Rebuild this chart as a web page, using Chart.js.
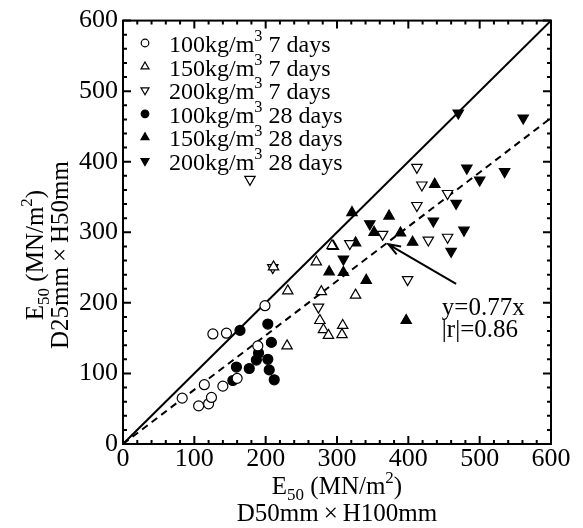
<!DOCTYPE html>
<html>
<head>
<title>E50 D25xH50 vs D50xH100</title>
<script src="https://cdn.jsdelivr.net/npm/chart.js"></script>
<style>
  body { margin: 0; background: #fff; }
  #wrap { width: 583px; height: 528px; }
</style>
</head>
<body>
<div id="wrap"><canvas id="e50Chart"></canvas></div>
<script>
const serif = "'Liberation Serif', 'Times New Roman', serif";

// [E50 D50xH100, E50 D25xH50] in MN/m2
const c100d7 = [[83,65],[106,54],[120,57],[124,66],[114,84],[140,82],[160,93],[126,156],[145,157],[189,139],[199,196]];
const c150d7 = [[211,251],[231,217],[271,258],[293,281],[278,216],[326,211],[276,175],[281,162],[288,154],[308,168],[307,155],[230,139]];
const c200d7 = [[178,375],[210,250],[318,284],[274,194],[412,392],[419,367],[455,355],[412,338],[364,297],[428,289],[455,293],[399,233]];
const c100d28 = [[164,161],[203,170],[208,144],[190,129],[187,119],[203,120],[205,105],[177,107],[159,109],[212,91],[154,90]];
const c150d28 = [[295,280],[326,285],[289,244],[309,243],[341,232],[321,328],[352,300],[373,323],[437,368],[389,299],[406,286],[397,175]];
const c200d28 = [[470,469],[561,462],[482,391],[535,386],[500,374],[467,341],[309,262],[346,312],[435,316],[478,303],[460,273]];

const oneToOne = [[0,0],[600,600]];
const fitLine = [[0,0],[600,462]];
const fitText = ["y=0.77x", "|r|=0.86"];
const arrowFrom = [467,227];
const arrowTo = [372,283];

const toXY = arr => arr.map(p => ({x: p[0], y: p[1]}));

function pts(unit, days, data, style, filled, rot) {
  return {
    label: unit + "|" + days,
    data: toXY(data),
    showLine: false,
    pointStyle: style,
    rotation: rot,
    pointRadius: style === "circle" ? 5 : 6,
    pointHoverRadius: style === "circle" ? 5 : 6,
    pointBackgroundColor: filled ? "#000" : "#fff",
    pointBorderColor: "#000",
    pointBorderWidth: 1.2,
    order: 1,
    legendRow: true
  };
}

function line(data, dash) {
  return {
    label: "",
    data: toXY(data),
    showLine: true,
    pointRadius: 0,
    borderColor: "#000",
    borderWidth: 2,
    borderDash: dash,
    order: 5
  };
}

function drawRich(ctx, parts, x, y, size, align) {
  let w = 0;
  parts.forEach(([t, k]) => {
    ctx.font = (k ? size * 0.68 : size) + "px " + serif;
    w += ctx.measureText(t).width;
  });
  let cx = align === "left" ? x : x - w / 2;
  ctx.textAlign = "left";
  ctx.textBaseline = "alphabetic";
  parts.forEach(([t, k]) => {
    ctx.font = (k ? size * 0.68 : size) + "px " + serif;
    const dy = k === "sub" ? size * 0.24 : k === "sup" ? -size * 0.45 : 0;
    ctx.fillText(t, cx, y + dy);
    cx += ctx.measureText(t).width;
  });
}

const e50Title = [["E", ""], ["50", "sub"], [" (MN/m", ""], ["2", "sup"], [")", ""]];

const decor = {
  id: "decor",
  afterDraw(chart) {
    const {ctx, chartArea: a, scales: {x, y}} = chart;
    ctx.save();
    ctx.strokeStyle = "#000";
    ctx.fillStyle = "#000";
    ctx.lineWidth = 2;
    ctx.setLineDash([]);
    ctx.strokeRect(a.left, a.top, a.right - a.left, a.bottom - a.top);

    // inward ticks on all four sides
    ctx.beginPath();
    for (let v = 0; v <= 600; v += 20) {
      const len = v % 100 === 0 ? 8 : 4;
      const px = x.getPixelForValue(v), py = y.getPixelForValue(v);
      ctx.moveTo(px, a.bottom); ctx.lineTo(px, a.bottom - len);
      ctx.moveTo(px, a.top); ctx.lineTo(px, a.top + len);
      ctx.moveTo(a.left, py); ctx.lineTo(a.left + len, py);
      ctx.moveTo(a.right, py); ctx.lineTo(a.right - len, py);
    }
    ctx.stroke();

    // legend
    chart.data.datasets.filter(d => d.legendRow).forEach((d, i) => {
      const ry = 43 + i * 23.6;
      ctx.fillStyle = d.pointBackgroundColor;
      ctx.strokeStyle = "#000";
      ctx.lineWidth = 1.2;
      Chart.helpers.drawPoint(ctx, {
        pointStyle: d.pointStyle,
        rotation: d.rotation,
        radius: d.pointStyle === "circle" ? 3.8 : 4.6,
        borderWidth: 1.2
      }, 145, ry);
      ctx.fillStyle = "#000";
      const [unit, days] = d.label.split("|");
      drawRich(ctx, [[unit + "kg/m", ""], ["3", "sup"], [" " + days, ""]], 169, ry + 9, 24, "left");
    });

    // regression note with arrow
    ctx.lineWidth = 2;
    const tx = x.getPixelForValue(arrowFrom[0]), ty = y.getPixelForValue(arrowFrom[1]);
    const hx = x.getPixelForValue(arrowTo[0]), hy = y.getPixelForValue(arrowTo[1]);
    const ang = Math.atan2(ty - hy, tx - hx);
    ctx.beginPath();
    ctx.moveTo(tx, ty); ctx.lineTo(hx, hy);
    ctx.moveTo(hx + 13 * Math.cos(ang + 0.35), hy + 13 * Math.sin(ang + 0.35));
    ctx.lineTo(hx, hy);
    ctx.lineTo(hx + 13 * Math.cos(ang - 0.35), hy + 13 * Math.sin(ang - 0.35));
    ctx.stroke();
    ctx.font = "25px " + serif;
    ctx.textAlign = "left";
    ctx.textBaseline = "alphabetic";
    ctx.fillText(fitText[0], x.getPixelForValue(447), y.getPixelForValue(183));
    ctx.fillText(fitText[1], x.getPixelForValue(447), y.getPixelForValue(152));

    // axis titles
    const cx = (a.left + a.right) / 2;
    drawRich(ctx, e50Title, cx, 494, 25);
    drawRich(ctx, [["D50mm\u2009\u00d7\u2009H100mm", ""]], cx, 521, 25);

    ctx.save();
    ctx.translate(0, 255);
    ctx.rotate(-Math.PI / 2);
    drawRich(ctx, e50Title, 0, 43, 25);
    drawRich(ctx, [["D25mm\u2009\u00d7\u2009H50mm", ""]], 0, 68, 25);
    ctx.restore();

    ctx.restore();
  }
};

const tickFont = {family: serif, size: 26};

new Chart(document.getElementById("e50Chart"), {
  type: "scatter",
  data: {
    datasets: [
      line(oneToOne, []),
      line(fitLine, [7, 5]),
      pts("100", "7 days", c100d7, "circle", false, 0),
      pts("150", "7 days", c150d7, "triangle", false, 0),
      pts("200", "7 days", c200d7, "triangle", false, 180),
      pts("100", "28 days", c100d28, "circle", true, 0),
      pts("150", "28 days", c150d28, "triangle", true, 0),
      pts("200", "28 days", c200d28, "triangle", true, 180)
    ]
  },
  options: {
    responsive: true,
    maintainAspectRatio: false,
    animation: false,
    events: [],
    layout: {padding: {left: 0, top: 16, right: 32, bottom: 0}},
    plugins: {legend: {display: false}, tooltip: {enabled: false}},
    scales: {
      x: {
        type: "linear", min: 0, max: 600,
        grid: {display: false, drawTicks: false},
        border: {display: false},
        ticks: {stepSize: 100, font: tickFont, color: "#000", padding: 0, maxRotation: 0},
        afterFit: s => { s.height = 84; }
      },
      y: {
        type: "linear", min: 0, max: 600,
        grid: {display: false, drawTicks: false},
        border: {display: false},
        ticks: {stepSize: 100, font: tickFont, color: "#000", padding: 5},
        afterFit: s => { s.width = 123; }
      }
    }
  },
  plugins: [decor]
});
</script>
</body>
</html>
